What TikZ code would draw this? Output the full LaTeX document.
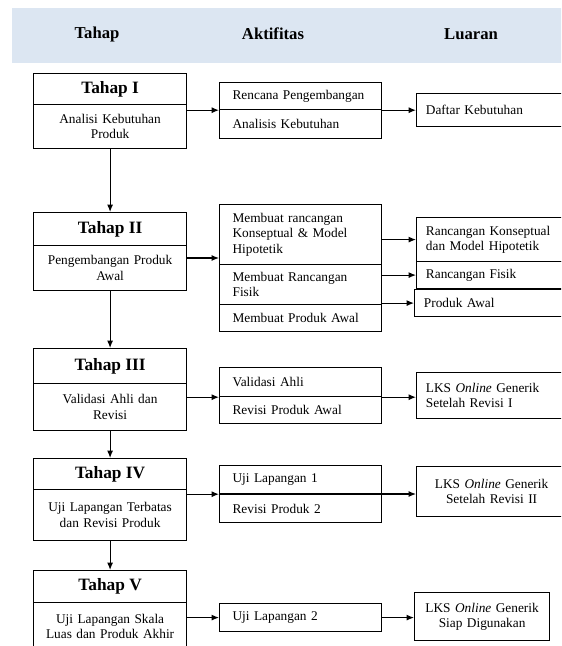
\documentclass[tikz,border=0pt]{standalone}
\usepackage{fontspec}
\setmainfont{Liberation Serif}
\usetikzlibrary{arrows.meta}

\definecolor{kepala}{RGB}{220,230,242}

\begin{document}
\begin{tikzpicture}[x=0.75pt, y=-0.75pt,
    garis/.style={line width=0.9pt},
    kotak/.style={draw, garis, anchor=north west, inner ysep=0pt, font=\fontsize{10}{11.6}\selectfont},
    judul/.style={kotak, inner xsep=0pt, minimum width=114.75pt, font=\fontsize{13}{15}\selectfont\bfseries},
    isi/.style={kotak, inner xsep=2.375pt, text width=110pt, align=center},
    aktif/.style={kotak, inner xsep=9.75pt, text width=102pt, align=left},
    luaran/.style={kotak, inner xsep=7pt, text width=98.5pt, align=left},
    judulkolom/.style={font=\fontsize{12.5}{15}\selectfont\bfseries},
    panah/.style={garis, -{Latex[length=5.5pt, width=4.5pt]}}]
    \useasboundingbox (0,0) rectangle (561,646);
    \clip (0,0) rectangle (561,646);

    % kepala tabel
    \fill[kepala] (12,8) rectangle (570,63);
    \node[judulkolom] (kolTahap) at (97,34) {Tahap};
    \node[judulkolom] (kolAktif) at (273,34) {Aktifitas};
    \node[judulkolom] (kolLuaran) at (471,34) {Luaran};

    % tahap I
    \node[judul, minimum height=23.25pt] (t1) at (33,73) {Tahap I};
    \node[isi, minimum height=33pt] (t1b) at (33,104) {Analisi Kebutuhan\\Produk};
    \node[aktif, minimum height=20.25pt] (a1a) at (219,82) {Rencana Pengembangan};
    \node[aktif, minimum height=21.75pt] (a1b) at (219,109) {Analisis Kebutuhan};
    \node[luaran, minimum height=24.75pt] (o1) at (416,93) {Daftar Kebutuhan};
    \draw[panah] (t1b.east |- a1a.south west) -- (a1a.south west);
    \draw[panah] (a1a.south east) -- (o1.west |- a1a.south east);

    % tahap II
    \node[judul, minimum height=24.75pt] (t2) at (33,212) {Tahap II};
    \node[isi, minimum height=33.75pt] (t2b) at (33,245) {Pengembangan Produk\\Awal};
    \node[aktif, minimum height=45pt] (a2a) at (219,204) {Membuat rancangan\\Konseptual \& Model\\Hipotetik};
    \node[aktif, minimum height=30pt] (a2b) at (219,264) {Membuat Rancangan\\Fisik};
    \node[aktif, minimum height=20.25pt] (a2c) at (219,304) {Membuat Produk Awal};
    \node[luaran, minimum height=33pt] (o2a) at (416,217) {Rancangan Konseptual\\dan Model Hipotetik};
    \node[luaran, minimum height=20.25pt] (o2b) at (416,261) {Rancangan Fisik};
    \node[luaran, text width=100pt, minimum height=20.25pt] (o2c) at (414,289) {Produk Awal};
    \coordinate (k2) at (0,258);
    \draw[panah] (t2b.east |- k2) -- (a2a.west |- k2);
    \draw[panah] (a2a.east |- o2a.west) -- (o2a.west);
    \draw[panah] (a2b.east |- o2b.west) -- (o2b.west);
    \draw[panah] (a2b.east |- o2c.west) -- (o2c.west);

    % tahap III
    \node[judul, minimum height=26.25pt] (t3) at (33,348) {Tahap III};
    \node[isi, minimum height=35.25pt] (t3b) at (33,383) {Validasi Ahli dan\\Revisi};
    \node[aktif, minimum height=21.75pt] (a3a) at (219,367) {Validasi Ahli};
    \node[aktif, minimum height=20.25pt] (a3b) at (219,396) {Revisi Produk Awal};
    \node[luaran, minimum height=34.5pt] (o3) at (416,372) {LKS \emph{Online} Generik\\Setelah Revisi I};
    \draw[panah] (t3b.east |- a3a.south west) -- (a3a.south west);
    \draw[panah] (a3a.south east) -- (o3.west |- a3a.south east);

    % tahap IV
    \node[judul, minimum height=23.25pt] (t4) at (33,458) {Tahap IV};
    \node[isi, minimum height=38.25pt] (t4b) at (33,489) {Uji Lapangan Terbatas\\dan Revisi Produk};
    \node[aktif, minimum height=21pt] (a4a) at (219,465) {Uji Lapangan 1};
    \node[aktif, minimum height=21pt] (a4b) at (219,494) {Revisi Produk 2};
    \node[luaran, align=center, minimum height=37.5pt] (o4) at (416,466) {LKS \emph{Online} Generik\\Setelah Revisi II};
    \draw[panah] (t4b.east |- a4a.south west) -- (a4a.south west);
    \draw[panah] (a4b.north east) -- (o4.west |- a4b.north east);

    % tahap V
    \node[judul, minimum height=24pt] (t5) at (33,570) {Tahap V};
    \node[isi, minimum height=36pt] (t5b) at (33,602) {Uji Lapangan Skala\\Luas dan Produk Akhir};
    \node[aktif, minimum height=21pt] (a5) at (219,603) {Uji Lapangan 2};
    \node[luaran, align=center, text width=87.25pt, minimum height=36pt] (o5) at (414,592) {LKS \emph{Online} Generik\\Siap Digunakan};
    \draw[panah] (t5b.east |- a5.west) -- (a5.west);
    \draw[panah] (a5.east) -- (o5.west |- a5.east);

    % alur antar tahap
    \draw[panah] (t1b.south) -- (t2.north);
    \draw[panah] (t2b.south) -- (t3.north);
    \draw[panah] (t3b.south) -- (t4.north);
    \draw[panah] (t4b.south) -- (t5.north);
\end{tikzpicture}
\end{document}
